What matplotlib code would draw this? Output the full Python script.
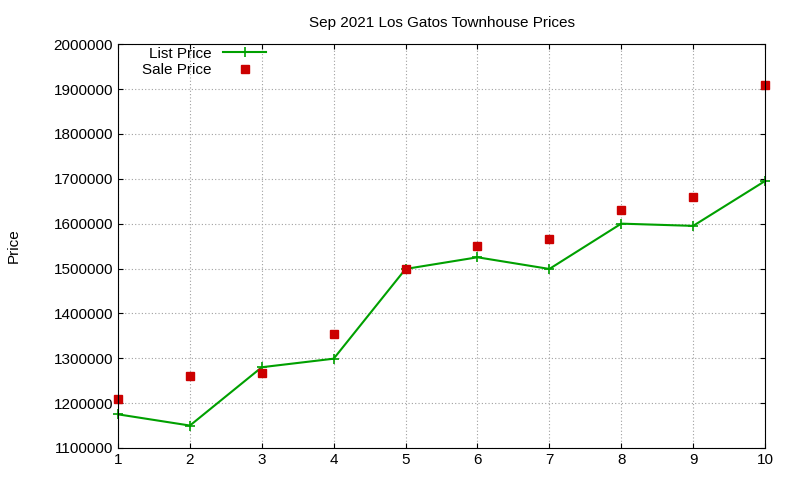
import matplotlib
matplotlib.use("Agg")
import matplotlib.pyplot as plt

plt.rcParams['font.family'] = ['Liberation Sans', 'DejaVu Sans']

x = [1, 2, 3, 4, 5, 6, 7, 8, 9, 10]
list_price = [1175000, 1150000, 1280000, 1299000, 1499000, 1525000, 1499000, 1600000, 1595000, 1695000]
sale_price = [1210000, 1260000, 1268000, 1355000, 1499000, 1550000, 1565000, 1630000, 1660000, 1910000]

fig = plt.figure(figsize=(8, 4.8), dpi=100)
ax = fig.add_axes([0.1475, 0.0667, 0.8088, 0.8413])
ax.plot(x, list_price, color="#00a000", lw=1.5, marker="+", ms=7, mew=1.2, label="List Price", clip_on=False)
ax.plot(x, sale_price, ls="none", marker="s", ms=6, color="#cc0000", label="Sale Price", clip_on=False)
ax.set_xlim(1, 10)
ax.set_ylim(1100000, 2000000)
ax.set_xticks(range(1, 11))
ax.set_yticks(range(1100000, 2000001, 100000))
ax.ticklabel_format(style="plain", axis="y", useOffset=False)
ax.grid(True, color="#a0a0a0", ls=(0, (1, 2)), lw=0.8)
ax.tick_params(direction="in", top=True, right=True, labelsize=11)
ax.set_title("Sep 2021 Los Gatos Townhouse Prices", fontsize=11, pad=12)
ax.set_ylabel("Price", fontsize=11, labelpad=24)
ax.legend(loc="upper left", markerfirst=False, frameon=False, fontsize=11,
          bbox_to_anchor=(0.02, 1.02), handlelength=2.8, borderpad=0.2, labelspacing=0.15)
fig.savefig("out.png")
